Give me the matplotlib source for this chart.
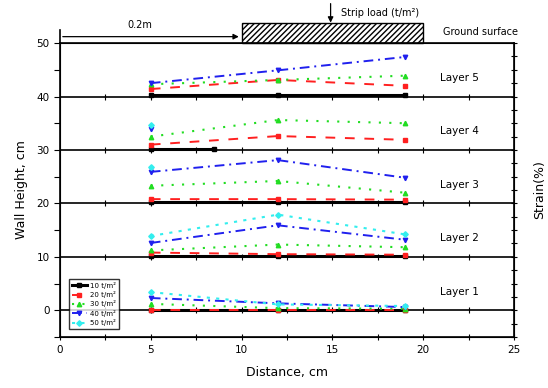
import matplotlib
matplotlib.use("Agg")
import matplotlib.pyplot as plt
from matplotlib.patches import Rectangle
import numpy as np

# ---------------- data ----------------
x_pts = [5, 12, 19]
layer_base = [0, 10, 20, 30, 40]
layer_names = ["Layer 1", "Layer 2", "Layer 3", "Layer 4", "Layer 5"]
series_labels = ["10 t/m\u00b2", "20 t/m\u00b2", "30 t/m\u00b2", "40 t/m\u00b2", "50 t/m\u00b2"]

# plotted heights (layer baseline + strain) for each series per layer
black_vals = {0: [0.05, 0.05, 0.05], 1: [10.1, 10.1, 10.1], 2: [20.2, 20.2, 20.2],
              4: [40.2, 40.2, 40.2]}
black_l4_x = [5, 8.5]
black_l4_y = [30.2, 30.2]
red_vals = {0: [0.1, 0.1, 0.1], 1: [10.8, 10.5, 10.4], 2: [20.8, 20.8, 20.7],
            3: [31.0, 32.6, 31.9], 4: [41.4, 43.1, 42.0]}
green_vals = {0: [1.2, 0.4, 0.3], 1: [11.2, 12.3, 11.8], 2: [23.3, 24.2, 22.0],
              3: [32.5, 35.6, 35.0], 4: [42.3, 43.1, 43.9]}
blue_vals = {0: [2.3, 1.3, 0.6], 1: [12.6, 15.9, 13.2], 2: [25.9, 28.1, 24.8],
             4: [42.5, 44.9, 47.4]}
blue_l4 = [34.0]
cyan_vals = {0: [3.4, 1.1, 0.8], 1: [13.9, 17.9, 14.2]}
cyan_l4 = [34.6]
cyan_l3 = [26.8]

# ---------------- figure ----------------
fig = plt.figure(figsize=(5.48, 3.88), dpi=100)
ax = fig.add_axes([0.1095, 0.1314, 0.8285, 0.7576])
ax.set_xlim(0, 25)
ax.set_ylim(-5, 50)

styles = dict(
    black=dict(color="black", ls="-", marker="s", lw=2.2, ms=2.2),
    red=dict(color="#ff2020", ls=(0, (5, 5)), marker="s", lw=1.4, ms=2.8),
    green=dict(color="#22dd22", ls=(0, (1, 4)), marker="^", lw=1.5, ms=3.2),
    blue=dict(color="#2020ee", ls=(0, (5, 2.5, 1, 2.5)), marker="v", lw=1.4, ms=3.2),
    cyan=dict(color="#33eeee", ls=(0, (1.5, 3)), marker="D", lw=1.5, ms=2.8),
)

handles = []
for i, v in black_vals.items():
    h, = ax.plot(x_pts, v, **styles["black"])
handles.append(h)
ax.plot(black_l4_x, black_l4_y, **styles["black"])
for i, v in red_vals.items():
    h, = ax.plot(x_pts, v, **styles["red"])
handles.append(h)
for i, v in green_vals.items():
    h, = ax.plot(x_pts, v, **styles["green"])
handles.append(h)
for i, v in blue_vals.items():
    h, = ax.plot(x_pts, v, **styles["blue"])
ax.plot([5], blue_l4, color=styles["blue"]["color"], marker="v", ms=3.2, ls="none")
handles.append(h)
for i, v in cyan_vals.items():
    h, = ax.plot(x_pts, v, **styles["cyan"])
ax.plot([5], cyan_l4, color=styles["cyan"]["color"], marker="D", ms=2.8, ls="none")
ax.plot([5], cyan_l3, color=styles["cyan"]["color"], marker="D", ms=2.8, ls="none")
handles.append(h)

# layer lines
for b in layer_base:
    ax.axhline(b, color="black", lw=1.2, zorder=1)
    ax.plot(np.arange(2.5, 25, 2.5), [b] * 9, ls="none", marker="|", color="black",
            ms=4, mew=0.8, zorder=1)

for b, name in zip(layer_base, layer_names):
    ax.text(22.0, b + 3.5, name, fontsize=7.5, ha="center", va="center")

# axes styling
ax.set_xticks(np.arange(0, 26, 5))
ax.set_xticks(np.arange(0, 25, 2.5), minor=True)
ax.set_yticks(np.arange(0, 51, 10))
ax.set_yticks(np.arange(-5, 50, 5), minor=True)
ax.tick_params(axis="both", which="both", labelsize=7.5, width=0.8)
ax.tick_params(axis="x", which="both", direction="inout", length=5)
ax.tick_params(axis="y", which="both", direction="out", length=4)
for s in ax.spines.values():
    s.set_linewidth(1.2)
ax.set_xlabel("Distance, cm", fontsize=9, labelpad=8)
ax.set_ylabel("Wall Height, cm", fontsize=9, labelpad=6)

ax2 = ax.twinx()
ax2.set_ylim(-5, 50)
ax2.set_yticks(np.arange(-5, 51, 2.5))
ax2.tick_params(axis="y", direction="inout", length=4, width=0.8, labelright=False)
ax2.set_ylabel("Strain(%)", fontsize=9, labelpad=12)

# top decorations (load strip)
ax.plot([0, 0], [50, 52.5], color="black", lw=1.2, clip_on=False)
ax.add_patch(Rectangle((10, 50), 10, 3.8, facecolor="white", edgecolor="black",
                       hatch="//////", lw=1.0, clip_on=False))
ax.annotate("", xy=(10, 51.2), xytext=(0, 51.2),
            arrowprops=dict(arrowstyle="-|>", lw=0.9, color="black", mutation_scale=8),
            annotation_clip=False)
ax.text(4.4, 53.3, "0.2m", fontsize=7, ha="center", va="center")
ax.annotate("", xy=(14.9, 53.3), xytext=(14.9, 57.9),
            arrowprops=dict(arrowstyle="-|>", lw=0.9, color="black", mutation_scale=8),
            annotation_clip=False)
ax.text(15.5, 55.6, "Strip load (t/m\u00b2)", fontsize=7, ha="left", va="center")
ax.text(21.1, 52.0, "Ground surface", fontsize=7, ha="left", va="center")

leg = ax.legend(handles, series_labels, loc="lower left", bbox_to_anchor=(0.012, 0.015),
                fontsize=5, handlelength=2.2, frameon=True, fancybox=False,
                edgecolor="black", borderpad=0.4, labelspacing=0.35, handletextpad=0.4)
leg.get_frame().set_linewidth(1.0)

fig.savefig("out.png", dpi=100)
